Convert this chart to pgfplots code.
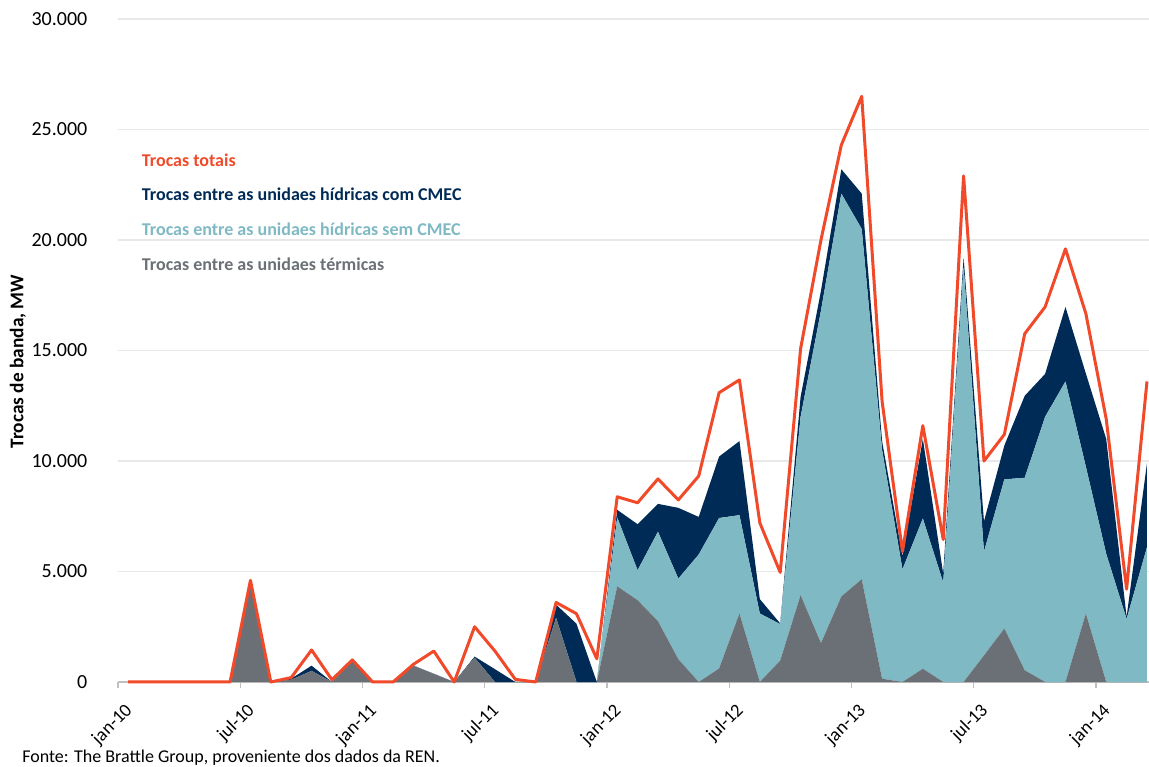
\documentclass[border=0pt]{standalone}
\usepackage{fontspec}
\setmainfont{Carlito}
\usepackage{pgfplots}
\pgfplotsset{compat=1.18}
\usepackage{pgfplotstable}

\definecolor{totalred}{HTML}{F04A2A}
\definecolor{hidcom}{HTML}{002B57}
\definecolor{hidsem}{HTML}{7FB9C3}
\definecolor{termica}{HTML}{6B7077}
\definecolor{gridgray}{HTML}{E8E8E8}
\definecolor{axisgray}{HTML}{C0C0C0}

% Monthly band exchanges (MW), jan-10 = 0
% term: thermal units; sem: hydro units without CMEC; com: hydro units with CMEC
\pgfplotstableread{
m  term  sem    com   total
0  0     0      0     0
1  0     0      0     0
2  0     0      0     0
3  0     0      0     0
4  0     0      0     0
5  0     0      0     0
6  4400  0      0     4600
7  0     0      0     0
8  100   0      50    200
9  500   0      240   1450
10 0     0      0     100
11 950   0      0     1000
12 0     0      0     0
13 0     0      0     0
14 740   0      0     800
15 370   0      0     1400
16 0     0      0     0
17 1100  0      50    2500
18 0     0      580   1400
19 0     0      0     120
20 0     0      0     0
21 2900  0      600   3600
22 0     0      2640  3090
23 0     0      0     1050
24 4330  3120   340   8380
25 3700  1360   2080  8110
26 2750  4050   1260  9190
27 1030  3650   3200  8240
28 0     5770   1700  9320
29 610   6810   2780  13090
30 3100  4450   3350  13670
31 0     3100   650   7200
32 970   1650   30    4960
33 3930  8070   900   15080
34 1760  15040  900   20000
35 3870  18230  1100  24300
36 4650  15850  1600  26500
37 150   10350  400   12700
38 0     5100   600   5900
39 600   6800   3600  11600
40 0     4500   400   6450
41 0     18800  400   22900
42 1200  4700   1370  10000
43 2420  6750   1530  11200
44 530   8710   3710  15760
45 0     12000  1940  16970
46 0     13600  3370  19600
47 3100  6650   4210  16670
48 0     5800   5200  11900
49 0     2850   100   4200
50 0     6100   3800  13600
}\trocas

\pgfplotsset{
  trocasbase/.style={
    scale only axis,
    width=773.25pt, height=497.25pt,
    xmin=-0.5, xmax=50.1,
    ymin=0, ymax=30000,
    clip=false,
  },
}

\begin{document}
\begin{tikzpicture}[font=\fontsize{13.5}{16}\selectfont]
% bounding frame of the figure
\path[use as bounding box] (-88.5pt,-63.75pt) rectangle (773.25pt,511.5pt);

\begin{axis}[
  trocasbase,
  stack plots=y,
  axis lines*=left,
  x axis line style={axisgray, line width=0.9pt},
  y axis line style={draw=none},
  ymajorgrids,
  grid style={gridgray, line width=0.9pt},
  ytick={0,5000,10000,15000,20000,25000,30000},
  yticklabels={0,5.000,10.000,15.000,20.000,25.000,30.000},
  ytick style={draw=none},
  yticklabel style={anchor=east, xshift=-15pt, font=\fontsize{15}{18}\selectfont},
  xtick={-0.5,5.5,11.5,17.5,23.5,29.5,35.5,41.5,47.5},
  xticklabels={jan-10,jul-10,jan-11,jul-11,jan-12,jul-12,jan-13,jul-13,jan-14},
  xtick style={axisgray, line width=0.9pt},
  tick align=outside,
  major tick length=4.5pt,
  xticklabel style={xshift=11pt, yshift=-12.5pt, rotate=45, anchor=east,
    font=\fontsize{14}{17}\selectfont},
  ylabel={Trocas de banda, MW},
  ylabel style={at={(axis description cs:-0.097,0.4834)}, anchor=center,
    font=\fontsize{14.5}{17}\selectfont\bfseries},
]
\addplot[draw=none, fill=termica] table[x=m, y=term] {\trocas} \closedcycle;
\addplot[draw=none, fill=hidsem] table[x=m, y=sem] {\trocas} \closedcycle;
\addplot[draw=none, fill=hidcom] table[x=m, y=com] {\trocas} \closedcycle;

\node[anchor=base west, inner sep=0, text=totalred, font=\fontsize{13.5}{16}\selectfont\bfseries]
  at (rel axis cs:0.023,0.7768) {Trocas totais};
\node[anchor=base west, inner sep=0, text=hidcom, font=\fontsize{13.5}{16}\selectfont\bfseries]
  at (rel axis cs:0.023,0.7255) {Trocas entre as unidaes hídricas com CMEC};
\node[anchor=base west, inner sep=0, text=hidsem, font=\fontsize{13.5}{16}\selectfont\bfseries]
  at (rel axis cs:0.023,0.6727) {Trocas entre as unidaes hídricas sem CMEC};
\node[anchor=base west, inner sep=0, text=termica, font=\fontsize{13.5}{16}\selectfont\bfseries]
  at (rel axis cs:0.023,0.6214) {Trocas entre as unidaes térmicas};
\end{axis}

\begin{axis}[trocasbase, hide axis]
\addplot[totalred, line width=2.25pt, line join=round, mark=none] table[x=m, y=total] {\trocas};
\end{axis}

\node[anchor=base west, inner sep=0] at (-72pt,-60pt)
  {Fonte: The Brattle Group, proveniente dos dados da REN.};
\end{tikzpicture}
\end{document}
